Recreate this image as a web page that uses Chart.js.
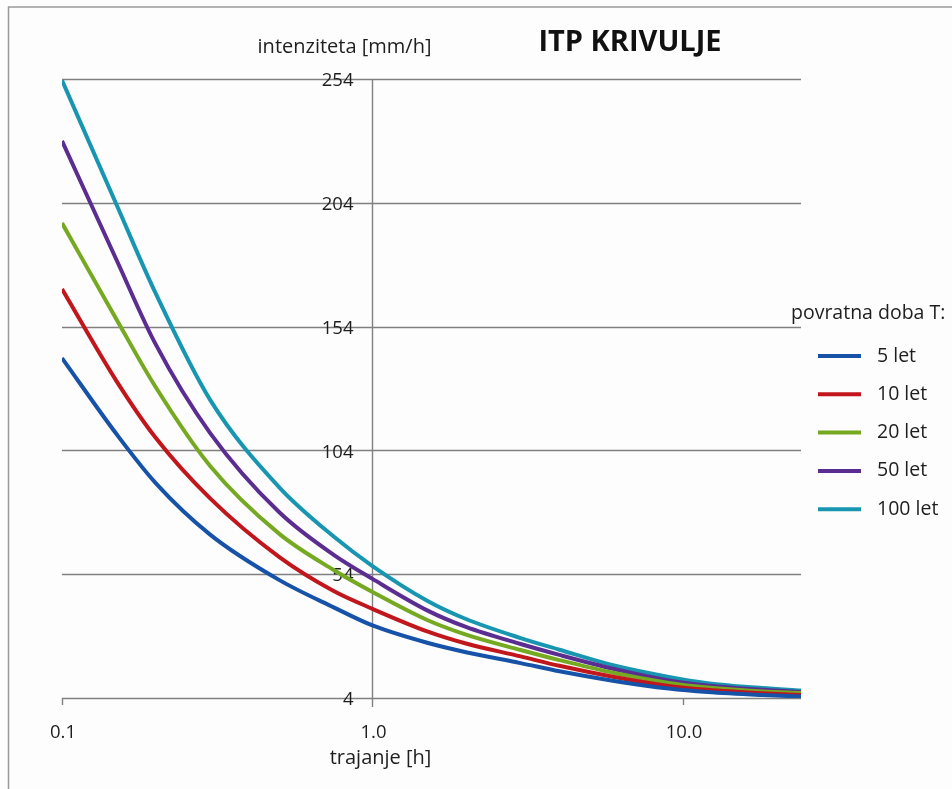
<!DOCTYPE html>
<html>
<head>
<meta charset="utf-8">
<script src="https://cdn.jsdelivr.net/npm/chart.js@4.4.1/dist/chart.umd.min.js"></script>
<style>
  html, body { margin: 0; padding: 0; background: #ffffff; }
  canvas { display: block; }
</style>
</head>
<body>
<canvas id="itp" width="952" height="789"></canvas>
<script>
// Rainfall durations [h] and intensities [mm/h] per return period
const durations = [0.1, 0.15, 0.2, 0.3, 0.5, 0.75, 1, 1.5, 2, 3, 4, 6, 9, 12, 18, 24];
const periodLabels = ['5 let', '10 let', '20 let', '50 let', '100 let'];
const intensity5 = [141.3, 110.5, 90.9, 70.0, 51.7, 40.6, 33.3, 26.3, 22.5, 18.1, 14.8, 10.9, 7.8, 6.4, 5.2, 4.6];
const intensity10 = [169.2, 131.9, 109.2, 84.6, 61.0, 47.2, 40.0, 30.9, 26.0, 20.8, 17.0, 12.5, 8.9, 7.3, 5.9, 5.2];
const intensity20 = [195.8, 156.8, 129.7, 97.7, 70.4, 55.7, 46.8, 35.5, 29.6, 23.4, 19.3, 14.1, 10.1, 8.2, 6.6, 6.0];
const intensity50 = [229.0, 180.8, 147.0, 111.0, 79.1, 61.8, 52.1, 39.4, 32.7, 25.8, 21.4, 15.7, 11.1, 9.1, 7.3, 6.4];
const intensity100 = [253.5, 203.1, 167.6, 124.4, 89.2, 69.2, 57.3, 43.3, 35.9, 28.2, 23.5, 17.1, 12.5, 10.0, 8.0, 7.0];
const seriesColors = ['#1652a8', '#c0161c', '#76a922', '#5b2d91', '#1896b1'];

// Axis ticks
const yTicks = [4, 54, 104, 154, 204, 254];
const xTicks = [0.1, 1, 10];
const xTickLabels = ['0.1', '1.0', '10.0'];

const FONT = '"Open Sans", "Noto Sans", sans-serif';
const allSeries = [intensity5, intensity10, intensity20, intensity50, intensity100];

const datasets = allSeries.map((vals, i) => ({
  label: periodLabels[i],
  data: durations.map((d, k) => ({ x: d, y: vals[k] })),
  borderColor: seriesColors[i],
  backgroundColor: seriesColors[i],
  borderWidth: 4,
  pointRadius: 0,
  fill: false,
  cubicInterpolationMode: 'monotone'
}));

// Frame, grid, axes, labels and legend drawn against the chart's scales
const decor = {
  id: 'decor',
  beforeDatasetsDraw(chart) {
    const { ctx, chartArea: a, scales: { x, y } } = chart;
    ctx.save();
    ctx.fillStyle = '#fdfdfd';
    ctx.fillRect(0, 0, chart.width, chart.height);
    // outer frame
    ctx.strokeStyle = '#9a9a9a';
    ctx.lineWidth = 1.5;
    ctx.strokeRect(8.5, 7, chart.width + 20, chart.height + 20);

    // horizontal grid lines
    ctx.strokeStyle = '#808080';
    ctx.lineWidth = 1.4;
    yTicks.forEach(v => {
      const py = Math.round(y.getPixelForValue(v)) + 0.5;
      ctx.beginPath();
      ctx.moveTo(a.left, py);
      ctx.lineTo(a.right, py);
      ctx.stroke();
    });
    // vertical axis crossing at 1.0 h
    const ax = Math.round(x.getPixelForValue(1)) + 0.5;
    ctx.beginPath();
    ctx.moveTo(ax, a.top);
    ctx.lineTo(ax, a.bottom + 9);
    ctx.stroke();
    // x tick marks
    xTicks.forEach(v => {
      if (v === 1) return;
      const px = Math.round(x.getPixelForValue(v)) + 0.5;
      ctx.beginPath();
      ctx.moveTo(px, a.bottom);
      ctx.lineTo(px, a.bottom + 7);
      ctx.stroke();
    });

    // y tick labels next to the crossing axis
    ctx.fillStyle = '#1e1e1e';
    ctx.font = '18.5px ' + FONT;
    ctx.textAlign = 'right';
    ctx.textBaseline = 'middle';
    yTicks.forEach(v => {
      ctx.fillText(String(v), ax - 19, y.getPixelForValue(v) + 2);
    });
    // x tick labels
    ctx.textAlign = 'center';
    xTicks.forEach((v, i) => {
      ctx.fillText(xTickLabels[i], x.getPixelForValue(v) + 1, a.bottom + 35);
    });

    // axis titles
    ctx.font = '20px ' + FONT;
    ctx.fillText('trajanje [h]', ax + 8, a.bottom + 60);
    ctx.fillText('intenziteta [mm/h]', ax - 28, 47);

    // chart title
    ctx.font = 'bold 29px ' + FONT;
    ctx.fillStyle = '#111';
    ctx.fillText('ITP KRIVULJE', 630, 43);

    // legend
    ctx.font = '19.5px ' + FONT;
    ctx.fillStyle = '#1e1e1e';
    ctx.textAlign = 'left';
    ctx.fillText('povratna doba T:', 791, 313);
    chart.data.datasets.forEach((ds, i) => {
      const ly = 356 + i * 38.3;
      ctx.strokeStyle = ds.borderColor;
      ctx.lineWidth = 4;
      ctx.beginPath();
      ctx.moveTo(818, ly);
      ctx.lineTo(861, ly);
      ctx.stroke();
      ctx.fillStyle = '#1e1e1e';
      ctx.fillText(ds.label, 877, ly);
    });
    ctx.restore();
  }
};

new Chart(document.getElementById('itp'), {
  type: 'line',
  data: { datasets },
  options: {
    responsive: false,
    animation: false,
    layout: { padding: { left: 62, top: 79, right: 151, bottom: 91 } },
    scales: {
      x: { type: 'logarithmic', min: 0.1, max: 24, display: false },
      y: { type: 'linear', min: 4, max: 254, display: false }
    },
    plugins: { legend: { display: false }, tooltip: { enabled: false } }
  },
  plugins: [decor]
});
</script>
</body>
</html>
